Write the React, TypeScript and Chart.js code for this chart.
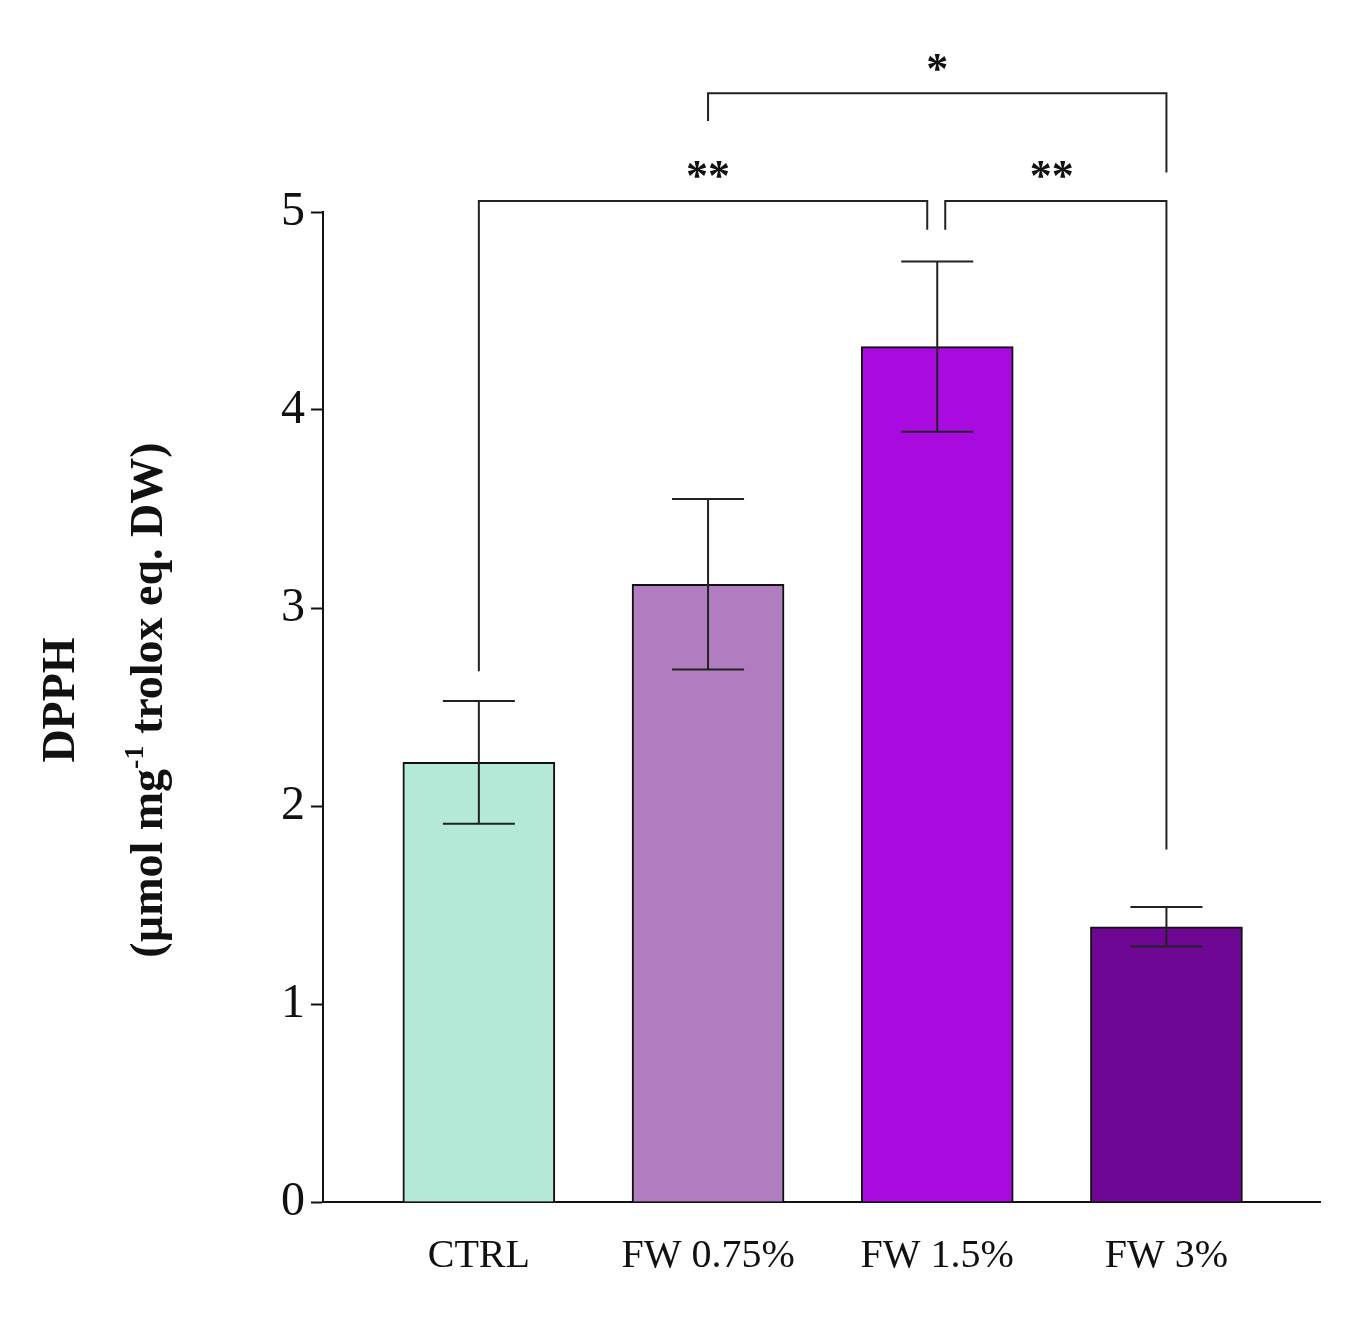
import React, { useEffect, useRef } from "react";
import { Chart, registerables } from "chart.js";
Chart.register(...registerables);

const categories = ["CTRL", "FW 0.75%", "FW 1.5%", "FW 3%"];
const means = [2.22, 3.12, 4.32, 1.39];
const errors = [0.31, 0.43, 0.43, 0.1];
const colors = ["#b3e9d6", "#b07ec0", "#a90ae0", "#6e0894"];
const yTicks = [0, 1, 2, 3, 4, 5];
// brackets: [from index, to index, y level, left drop-to value, right drop-to value, label, fromOffsetPx, toOffsetPx]
const brackets: [number, number, number, number, number, string, number, number][] = [
  [0, 2, 5.055, 2.68, 4.91, "**", 0, -10],
  [2, 3, 5.055, 4.91, 1.78, "**", 8, 0],
  [1, 3, 5.6, 5.46, 5.2, "*", 0, 0],
];

const FONT = "'Liberation Serif', 'DejaVu Serif', serif";

export default function App() {
  const ref = useRef<HTMLCanvasElement>(null);
  useEffect(() => {
    const overlay = {
      id: "overlay",
      afterDatasetsDraw(chart: any) {
        const { ctx, scales } = chart;
        const x = scales.x, y = scales.y;
        ctx.save();
        ctx.strokeStyle = "#222";
        ctx.lineWidth = 2;
        means.forEach((m, i) => {
          const cx = x.getPixelForValue(i);
          const t = y.getPixelForValue(m + errors[i]);
          const b = y.getPixelForValue(m - errors[i]);
          ctx.beginPath();
          ctx.moveTo(cx, t); ctx.lineTo(cx, b);
          ctx.moveTo(cx - 36, t); ctx.lineTo(cx + 36, t);
          ctx.moveTo(cx - 36, b); ctx.lineTo(cx + 36, b);
          ctx.stroke();
        });
        ctx.fillStyle = "#111";
        ctx.font = `bold 44px ${FONT}`;
        ctx.textAlign = "center";
        ctx.textBaseline = "middle";
        brackets.forEach(([a, b, lvl, la, lb, lab, oa, ob]) => {
          const xa = x.getPixelForValue(a) + oa;
          const xb = x.getPixelForValue(b) + ob;
          const yl = y.getPixelForValue(lvl);
          ctx.beginPath();
          ctx.moveTo(xa, y.getPixelForValue(la));
          ctx.lineTo(xa, yl); ctx.lineTo(xb, yl);
          ctx.lineTo(xb, y.getPixelForValue(lb));
          ctx.stroke();
          ctx.fillText(lab, (x.getPixelForValue(a) + x.getPixelForValue(b)) / 2, yl - 22);
        });
        // y title
        ctx.translate(0, 700);
        ctx.rotate(-Math.PI / 2);
        ctx.font = `bold 46px ${FONT}`;
        ctx.fillText("DPPH", 0, 62);
        const p1 = "(µmol mg", sup = "-1", p2 = " trolox eq. DW)";
        const w1 = ctx.measureText(p1).width, w3 = ctx.measureText(p2).width;
        ctx.font = `bold 28px ${FONT}`;
        const w2 = ctx.measureText(sup).width;
        let sx = -(w1 + w2 + w3) / 2;
        ctx.textAlign = "left";
        ctx.font = `bold 46px ${FONT}`;
        ctx.fillText(p1, sx, 150);
        ctx.font = `bold 28px ${FONT}`;
        ctx.fillText(sup, sx + w1, 136);
        ctx.font = `bold 46px ${FONT}`;
        ctx.fillText(p2, sx + w1 + w2, 150);
        ctx.restore();
      },
    };
    const chart = new Chart(ref.current!, {
      type: "bar",
      data: {
        datasets: [{
          data: means.map((v, i) => ({ x: i, y: v })),
          backgroundColor: colors,
          borderColor: "#111",
          borderWidth: 2,
          barThickness: 152,
        }],
      },
      options: {
        animation: false,
        responsive: false,
        plugins: { legend: { display: false }, tooltip: { enabled: false } },
        layout: { padding: { top: 212, right: 35, bottom: 16, left: 0 } },
        scales: {
          x: {
            type: "linear",
            offset: false,
            min: -0.68,
            max: 3.67,
            afterBuildTicks: (s: any) => { s.ticks = categories.map((_, i) => ({ value: i })); },
            ticks: { callback: (v: any) => categories[v], color: "#111", font: { family: FONT, size: 40 }, padding: 30, maxRotation: 0 },
            grid: { display: false, drawTicks: false },
            border: { color: "#111", width: 2 },
          },
          y: {
            min: 0, max: 5,
            afterBuildTicks: (s: any) => { s.ticks = yTicks.map((v) => ({ value: v })); },
            ticks: { color: "#111", font: { family: FONT, size: 48 }, padding: 6 },
            grid: { drawOnChartArea: false, tickLength: 12, color: "#111", tickWidth: 2 },
            border: { color: "#111", width: 2 },
            afterFit: (s: any) => { s.width = 323; },
          },
        },
      },
      plugins: [overlay],
    });
    return () => chart.destroy();
  }, []);
  return (
    <div style={{ position: "absolute", left: 0, top: 0, background: "#fff" }}>
      <canvas ref={ref} width={1355} height={1326} style={{ width: 1355, height: 1326 }} />
    </div>
  );
}
